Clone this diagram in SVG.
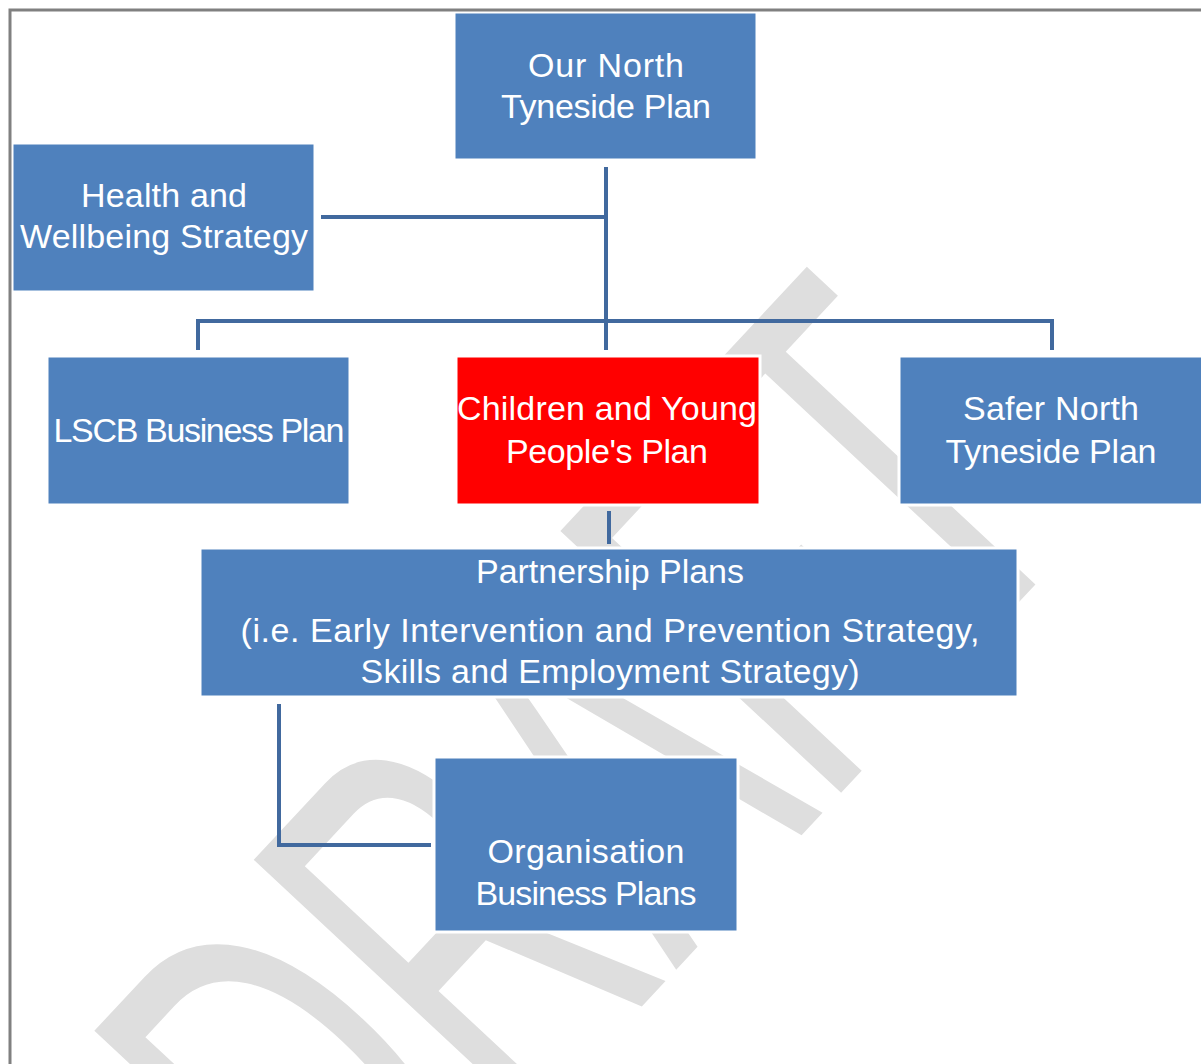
<svg xmlns="http://www.w3.org/2000/svg" width="1201" height="1064" viewBox="0 0 1201 1064">
<style>
.box{fill:#4f81bd;stroke:#ffffff;stroke-width:3}
.red{fill:#ff0000;stroke:#ffffff;stroke-width:3}
.lbl{font-family:"Liberation Sans",Arial,sans-serif;font-size:34px;fill:#ffffff;text-anchor:middle}
.con{fill:none;stroke:#41699e;stroke-width:4}
.wm{font-family:"Liberation Sans",Arial,sans-serif;font-size:558px;fill:#dedede}
</style>
<rect x="0" y="0" width="1201" height="1064" fill="#ffffff"/>
<g id="watermark">
<text class="wm" x="0" y="0" transform="translate(357 1312) rotate(-47) scale(0.58 1)">DRAFT</text>
</g>
<g id="connectors">
<path class="con" d="M606 167 V350"/>
<path class="con" d="M321 217 H606"/>
<path class="con" d="M198 350 V321 H1052 V350"/>
<path class="con" d="M609 511 V544"/>
<path class="con" d="M279 704 V845 H431"/>
</g>
<g id="node-our-north">
<rect class="box" x="454" y="12" width="303" height="148"/>
<text class="lbl" x="606" y="77" textLength="156" lengthAdjust="spacing">Our North</text>
<text class="lbl" x="606" y="118" textLength="210" lengthAdjust="spacing">Tyneside Plan</text>
</g>
<g id="node-health">
<rect class="box" x="12" y="143" width="303" height="149"/>
<text class="lbl" x="164" y="207" textLength="166" lengthAdjust="spacing">Health and</text>
<text class="lbl" x="164" y="248" textLength="288" lengthAdjust="spacing">Wellbeing Strategy</text>
</g>
<g id="node-lscb">
<rect class="box" x="47" y="356" width="303" height="149"/>
<text class="lbl" x="199" y="442" textLength="291" lengthAdjust="spacing">LSCB Business Plan</text>
</g>
<g id="node-cypp">
<rect class="red" x="456" y="356" width="304" height="149"/>
<text class="lbl" x="607" y="420" textLength="300" lengthAdjust="spacing">Children and Young</text>
<text class="lbl" x="607" y="463" textLength="202" lengthAdjust="spacing">People's Plan</text>
</g>
<g id="node-safer">
<rect class="box" x="899" y="356" width="306" height="149"/>
<text class="lbl" x="1051" y="420" textLength="176" lengthAdjust="spacing">Safer North</text>
<text class="lbl" x="1051" y="463" textLength="211" lengthAdjust="spacing">Tyneside Plan</text>
</g>
<g id="node-partnership">
<rect class="box" x="200" y="548" width="818" height="149"/>
<text class="lbl" x="610" y="583" textLength="268" lengthAdjust="spacing">Partnership Plans</text>
<text class="lbl" x="610" y="642" textLength="739" lengthAdjust="spacing">(i.e. Early Intervention and Prevention Strategy,</text>
<text class="lbl" x="610" y="683" textLength="499" lengthAdjust="spacing">Skills and Employment Strategy)</text>
</g>
<g id="node-organisation">
<rect class="box" x="434" y="757" width="304" height="175"/>
<text class="lbl" x="586" y="863" textLength="197" lengthAdjust="spacing">Organisation</text>
<text class="lbl" x="586" y="905" textLength="221" lengthAdjust="spacing">Business Plans</text>
</g>
<path d="M10 1064 V10 H1201" fill="none" stroke="#808080" stroke-width="3"/>
</svg>
